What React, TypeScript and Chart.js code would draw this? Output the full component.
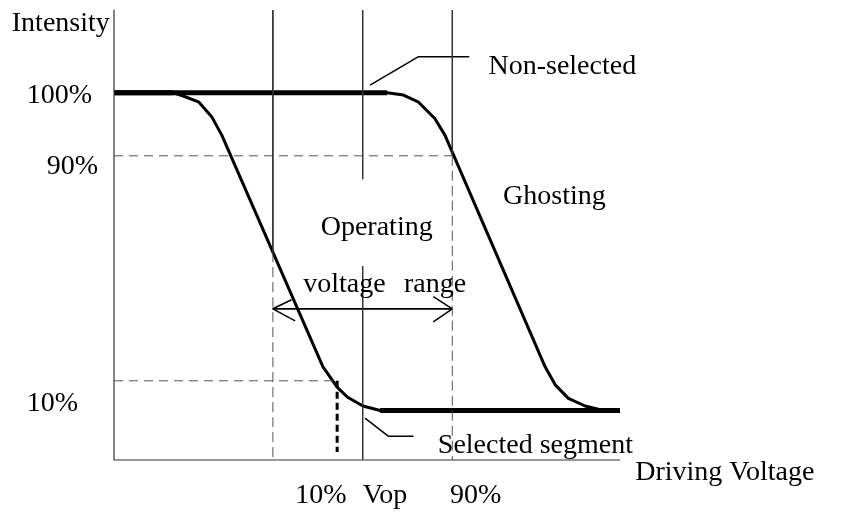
import React, { useEffect, useRef } from "react";
import { Chart, registerables } from "chart.js";

Chart.register(...registerables);

// ---- Data (schematic units: x = driving voltage 0..100, y = intensity 0..100) ----
const selectedX = [0, 11.7, 13.4, 16.7, 19.3, 21.3, 41.3, 44.1, 46.1, 49.2, 52.6, 100];
const selectedY = [81.6, 81.6, 81.0, 79.6, 76.3, 72.2, 20.7, 16.2, 14.0, 12.0, 11.0, 11.0];
const nonSelectedX = [0, 54.0, 57.2, 60.1, 63.4, 65.4, 85.2, 87.2, 89.8, 93.1, 96.1, 100];
const nonSelectedY = [81.6, 81.6, 81.1, 79.6, 75.9, 72.2, 20.7, 16.7, 13.7, 12.0, 11.2, 11.0];

const level100 = 81.6;
const level90 = 67.6;
const level10 = 17.6;
const v10 = 31.4; // 10% voltage
const vOp = 49.15; // Vop
const v90 = 66.86; // 90% voltage
const vSel10 = 44.1; // where selected curve crosses 10%

const yTickLabels = ["100%", "90%", "10%"];
const xTickLabels = ["10%", "Vop", "90%"];
const axisTitles = ["Intensity", "Driving Voltage"];
const noteLabels = ["Non-selected", "Ghosting", "Operating", "voltage", "range", "Selected segment"];

// ---- Layout of text (data coordinates of left/baseline anchor) ----
const yTickAt = [
  [-17.25, 79.3],
  [-13.3, 63.6],
  [-17.25, 10.9],
];
const xTickAt = [
  [35.8, -9.6],
  [49.15, -9.6],
  [66.4, -9.6],
];
const axisTitleAt = [
  [-20.2, 95.4],
  [103.0, -4.4],
];
const noteAt = [
  [74.0, 85.8],
  [76.9, 56.9],
  [40.85, 50.0],
  [37.4, 37.4],
  [57.3, 37.4],
  [64.0, 1.6],
];

const pts = (xs: number[], ys: number[]) => xs.map((x, i) => ({ x, y: ys[i] }));

function line(data: { x: number; y: number }[], color: string, width: number, dash: number[] = []) {
  return {
    data,
    showLine: true,
    pointRadius: 0,
    pointHoverRadius: 0,
    borderColor: color,
    backgroundColor: color,
    borderWidth: width,
    borderDash: dash,
    borderJoinStyle: "round" as const,
    borderCapStyle: "butt" as const,
    fill: false,
    tension: 0,
    clip: false as const,
  };
}

const textPlugin = {
  id: "schematicText",
  afterDatasetsDraw(chart: any) {
    const { ctx, scales } = chart;
    const xs = scales.x;
    const ys = scales.y;
    ctx.save();
    ctx.fillStyle = "#000";
    ctx.font = '28px "Liberation Serif", "Times New Roman", serif';
    ctx.textAlign = "left";
    ctx.textBaseline = "alphabetic";
    const put = (labels: string[], at: number[][]) =>
      labels.forEach((t, i) => ctx.fillText(t, xs.getPixelForValue(at[i][0]), ys.getPixelForValue(at[i][1])));
    put(yTickLabels, yTickAt);
    put(xTickLabels, xTickAt);
    put(axisTitles, axisTitleAt);
    put(noteLabels, noteAt);
    ctx.restore();
  },
};

export default function App() {
  const ref = useRef<HTMLCanvasElement | null>(null);

  useEffect(() => {
    if (!ref.current) return;
    const guide = "#333";
    const dashed = "#555";
    const datasets: any[] = [
      // axes
      line(pts([0, 0, 100], [100, 0, 0]), guide, 1.2),
      // vertical reference lines
      line(pts([v10, v10], [100, 46.2]), guide, 1),
      line(pts([v10, v10], [46.2, 0]), dashed, 1, [10, 5]),
      line(pts([vOp, vOp], [100, 62.4]), guide, 1),
      line(pts([vOp, vOp], [43.1, 0]), guide, 1),
      line(pts([v90, v90], [100, level90]), guide, 1),
      line(pts([v90, v90], [level90, 0]), dashed, 1, [10, 5]),
      // horizontal dashed levels
      line(pts([0, v90], [level90, level90]), dashed, 1, [9, 6]),
      line(pts([0, vSel10], [level10, level10]), dashed, 1, [9, 6]),
      // bold dashed drop line
      line(pts([vSel10, vSel10], [level10, 1.8]), "#000", 3, [7, 4]),
      // operating voltage range arrow
      line(pts([v10, v90], [33.6, 33.6]), "#000", 1.8),
      line(pts([35.1, v10, 35.8], [35.6, 33.6, 30.9]), "#000", 1.5),
      line(pts([63.1, v90, 63.1], [36.3, 33.6, 30.7]), "#000", 1.5),
      // leader lines
      line(pts([50.6, 60.1, 70.2], [83.3, 89.6, 89.6]), "#000", 1.5),
      line(pts([49.6, 54.2, 59.2], [9.3, 5.3, 5.3]), "#000", 1.5),
      // curves
      line(pts(selectedX, selectedY), "#000", 3),
      line(pts(nonSelectedX, nonSelectedY), "#000", 3),
      // thick flat portions
      line(pts(nonSelectedX.slice(0, 2), nonSelectedY.slice(0, 2)), "#000", 5),
      line(pts(selectedX.slice(0, 2), selectedY.slice(0, 2)), "#000", 5),
      line(pts(selectedX.slice(-2), selectedY.slice(-2)), "#000", 5),
    ];
    const chart = new Chart(ref.current, {
      type: "scatter",
      data: { datasets },
      options: {
        responsive: false,
        animation: false,
        events: [],
        layout: { padding: { left: 114, right: 226, top: 10, bottom: 53 } },
        scales: {
          x: { type: "linear", min: 0, max: 100, display: false },
          y: { type: "linear", min: 0, max: 100, display: false },
        },
        plugins: { legend: { display: false }, tooltip: { enabled: false } },
      },
      plugins: [textPlugin],
    });
    return () => chart.destroy();
  }, []);

  return (
    <div style={{ position: "absolute", left: 0, top: 0, width: 846, height: 513, background: "#fff" }}>
      <canvas ref={ref} width={846} height={513} style={{ display: "block" }} />
    </div>
  );
}
